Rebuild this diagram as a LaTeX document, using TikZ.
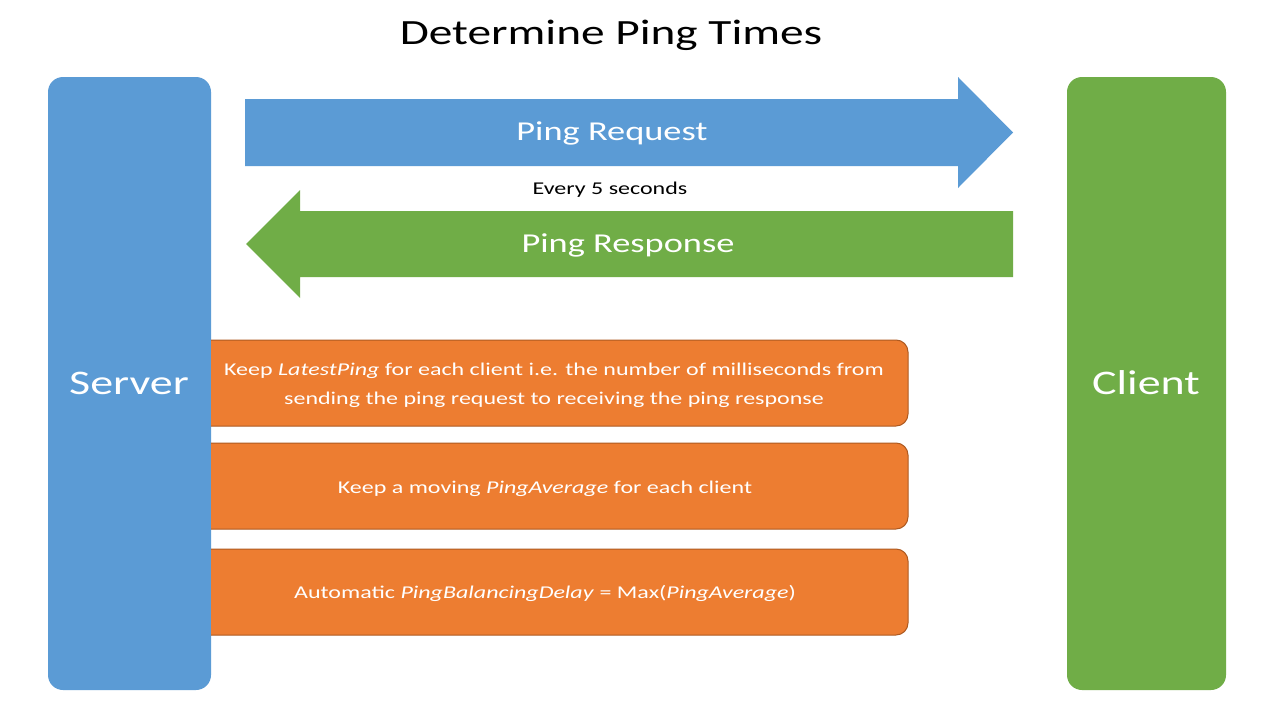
\documentclass[tikz,border=0pt]{standalone}
\usepackage{fontspec}
\setmainfont{Carlito}[FakeStretch=1.333]
\definecolor{srvblue}{HTML}{5B9BD5}
\definecolor{cligreen}{HTML}{70AD47}
\definecolor{boxorange}{HTML}{ED7D31}
\definecolor{boxedge}{HTML}{AE5A21}
\begin{document}
\begin{tikzpicture}[x=1pt,y=-1pt,
  endbox/.style={fill=#1,draw=none,rounded corners=15pt},
  inner/.style={text=white,inner sep=0pt},
  fs/.style 2 args={font=\fontsize{#1}{#2}\selectfont}]
\useasboundingbox (0,0) rectangle (1280,720);
\fill[white] (0,0) rectangle (1280,720);
% title
\node[fs={35.5}{43},inner sep=0pt] (title) at (611,35) {Determine Ping Times};
% server / client columns
\path[endbox=srvblue] (48,77) rectangle (211,690);
\path[endbox=cligreen] (1067,77) rectangle (1226,690);
\node[inner,fs={34.5}{41}] (server) at (129,383) {Server};
\node[inner,fs={34.5}{41}] (client) at (1146,383) {Client};
% ping request arrow
\fill[srvblue] (245,99) -- (958,99) -- (958,77) -- (1013,132.5) -- (958,188) -- (958,166) -- (245,166) -- cycle;
\node[inner,fs={27.3}{33}] (req) at (612,133.5) {Ping Request};
\node[inner sep=0pt,fs={18}{22}] (every) at (610,190) {Every 5 seconds};
% ping response arrow
\fill[cligreen] (1013,211) -- (300,211) -- (300,190) -- (246,244) -- (300,298) -- (300,277) -- (1013,277) -- cycle;
\node[inner,fs={27.3}{33}] (resp) at (628,245.5) {Ping Response};
% orange boxes
\foreach \t/\b in {340/426,443/529,549/635}{
  \fill[boxorange] (211,\t) -- (896,\t) arc[start angle=-90,end angle=0,radius=12] -- (908,\b-12) arc[start angle=0,end angle=90,radius=12] -- (211,\b) -- cycle;
  \draw[boxedge,line width=1pt] (211,\t) -- (896,\t) arc[start angle=-90,end angle=0,radius=12] -- (908,\b-12) arc[start angle=0,end angle=90,radius=12] -- (211,\b);
}
\node[inner,fs={18}{29},align=center] (b1) at (554,385) {Keep \textit{LatestPing} for each client i.e. the number of milliseconds from\\sending the ping request to receiving the ping response};
\node[inner,fs={18}{29}] (b2) at (545,488.5) {Keep a moving \textit{PingAverage} for each client};
\node[inner,fs={18}{29}] (b3) at (545,593.5) {Automatic \textit{PingBalancingDelay} = Max(\textit{PingAverage})};
\end{tikzpicture}
\end{document}
